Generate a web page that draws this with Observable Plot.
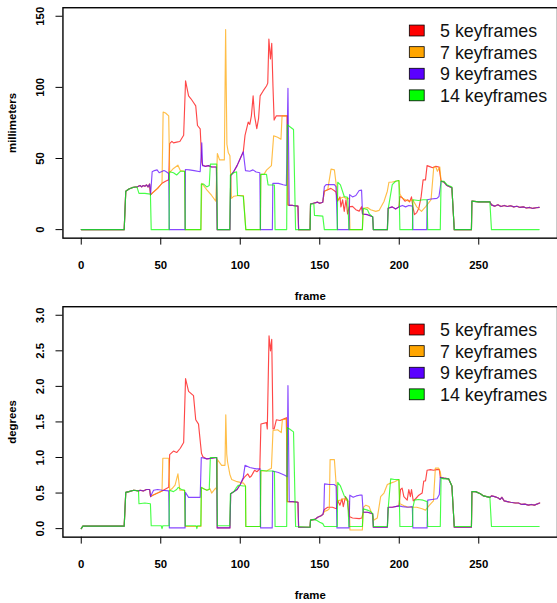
<!DOCTYPE html>
<html><head><meta charset="utf-8">
<script src="https://cdn.jsdelivr.net/npm/d3@7"></script>
<script src="https://cdn.jsdelivr.net/npm/@observablehq/plot@0.6"></script>
<style>
body{margin:0;background:#fff;overflow:hidden}
#wrap{width:557px;height:603px;overflow:hidden;position:relative;background:#fff}
#wrap svg{display:block}
</style></head><body><div id="wrap"></div>
<script>
const seriesNames = ["5 keyframes","7 keyframes","9 keyframes","14 keyframes"];
const seriesColors = ["#FF0000","#FFA500","#5A00FF","#00FF00"];
const xTicks = [0,50,100,150,200,250];
const mmTicks = [0,50,100,150];
const degTicks = [0,0.5,1,1.5,2,2.5,3];

// ---- top panel: millimeters, [frame, value] ----
const mm5 = [[0,0],[27,0],[28,27],[30,28.5],[32,29.5],[34,30],[35,30],[37,31],[38,30],[39,31],[40,30.5],[41,31.5],[42,30],[43,32],[43.6,24.4],[45,26],[48,29],[50.8,32.6],[53,34],[55,35],[55.6,60.5],[57,62],[58,61],[60,61.5],[62,62],[64.4,66.3],[65.6,104.6],[67.5,94],[69,92],[70.6,89.4],[72,87],[73.1,73.2],[74.8,70.9],[75.8,47.7],[76.3,45.4],[78,44.5],[80,45],[82,44],[85,44],[85.5,0],[93.5,0],[94,38],[96,41],[98,45],[100,50],[101.9,54.7],[103,66.3],[105,75.6],[106,74],[107,80],[108.1,94],[109,80],[110.4,71],[111.5,78],[112.5,94],[114.4,97.5],[116.5,101],[117.3,103],[118,134],[119,120],[119.8,131],[120.6,100],[121.3,77],[122.7,80],[128.5,80],[129.5,80],[130,17.4],[131,17],[133,17],[136.3,16.5],[136.7,0],[143.9,0],[144.2,18],[146,18.5],[148.7,19.3],[150,18.5],[151.9,19.3],[152.9,27],[155,28],[157,29],[159,27.5],[160.2,26.5],[161.2,20],[162.7,23],[163.3,16],[164.4,21],[165.4,12.8],[166.5,21],[167.5,11],[168.5,16],[170.6,16.3],[172.7,14],[174.8,13],[176.3,16],[176.9,11],[180,10.5],[183.3,9],[183.7,0],[192.5,0],[193,15],[195.6,16],[197.7,14.5],[199.8,16],[200.4,23.3],[201.8,22.5],[203.6,20],[205.4,21],[206.5,19.5],[207.7,23],[208.5,16.5],[209.6,10.5],[211,12],[212.3,15],[213.75,23],[215,35],[216.5,35],[217.5,45],[219.2,44.3],[221,43.5],[223,44.5],[225,44],[226.3,34],[228,33.5],[230,31],[233.1,29.5],[234.6,0],[245.4,0],[245.7,20],[250,19.5],[257,19.5],[258,17.4],[260,16.5],[262,17.5],[264,16.2],[266,17],[268,16.3],[270,16.8],[272,16],[274,16.4],[276,15.6],[278,16],[280,15.2],[282,15.6],[284,14.9],[286,15.4],[288,15.6]];
const mm7 = [[0,0],[27,0],[28,27],[30,28.5],[32,29.5],[34,30],[35,30],[37,31],[38,30],[39,31],[40,30.5],[41,31.5],[42,30],[43,32],[43.6,24.4],[45,26],[48,29],[50.8,32.6],[51.5,82.6],[53,82],[55,80],[55.6,40],[58,43],[60.8,45.3],[62.3,41.5],[65,41],[65.4,0],[75.3,0],[75.8,32.6],[79,28],[82,24],[84.6,20],[85.6,53.5],[87,49],[90,49],[90.8,140.7],[91.6,60],[92.5,54],[93.5,52],[94.5,22],[96,23.5],[99,24],[102,24],[103.5,0],[112.7,0],[113,38.8],[115,39],[116.5,41.8],[119.6,45],[121,66],[123.5,65],[125.6,63.5],[126.3,80],[128.5,80],[129.5,80],[130,17.4],[131,17],[133,17],[136.3,16.5],[136.7,0],[143.9,0],[144.2,18],[146,18.5],[148.7,19.3],[150,18.5],[151.9,19.3],[152.9,27.2],[155,28],[157.1,42.5],[159.2,42],[160.2,33],[161.2,21],[163,22],[165,23],[167,21.5],[168.5,22],[169,0],[176.8,0],[177.5,15],[180,15.5],[182,14],[185.2,12.8],[187.3,13.5],[190.4,19.8],[192.5,27],[193.5,33.3],[195.6,33.5],[197.7,34],[199.8,34.5],[200.4,25],[202,22],[204,21],[206,20],[208.5,21],[211,16],[214,12.8],[216.5,16],[220,21],[221.7,44],[223,44],[224,41],[225.5,44],[226.3,34],[228,33.5],[230,31],[233.1,29.5],[234.6,0],[245.4,0],[245.7,20],[250,19.5],[257,19.5],[258,17.4],[260,16.5],[262,17.5],[264,16.2],[266,17],[268,16.3],[270,16.8],[272,16],[274,16.4],[276,15.6],[278,16],[280,15.2],[282,15.6],[284,14.9],[286,15.4],[288,15.6]];
const mm9 = [[0,0],[27,0],[28,27],[30,28.5],[32,29.5],[34,30],[35,30],[37,31],[38,30],[39,31],[40,30.5],[41,31.5],[42,30],[43,32],[43.6,24.4],[44.6,40.7],[46,41.5],[47.7,42],[49,40],[50,40.5],[52,41.5],[53,41],[55,39.5],[55.4,0],[65.3,0],[65.5,42.3],[68,42],[71,41.5],[74.8,40.7],[75.8,61],[76.3,45],[78,44.5],[80,45],[82,44],[85,44],[85.5,0],[93.5,0],[94,38],[96,41],[98,45],[100,50],[101.9,54.7],[103.3,41.5],[106,41],[108,42],[110,40.5],[112.3,40],[112.7,0],[120.2,0],[120.5,32.6],[124,32.5],[127,31.5],[129,31],[130,99.3],[130.8,17],[133,17],[136.3,16.5],[136.7,0],[143.9,0],[144.2,18],[146,18.5],[148.7,19.3],[150,18.5],[151.9,19.3],[152.9,30.2],[154,31.6],[157,31.6],[159.2,31.6],[160.2,30.2],[161.2,0],[168.4,0],[168.8,24.6],[170.6,23],[172.7,24],[174.8,27.5],[176.3,27.8],[176.9,11],[180,10.5],[183.3,9],[183.7,0],[192.5,0],[193,15],[195.6,16],[197.7,14.5],[199.8,16],[202,17],[204,16],[206,17],[208.3,16.5],[208.6,0],[217.3,0],[217.6,21],[220,21.5],[223.7,22],[225,23.3],[226.3,34],[228,33.5],[230,31],[233.1,29.5],[234.6,0],[245.4,0],[245.7,20],[250,19.5],[257,19.5],[258,17.4],[260,16.5],[262,17.5],[264,16.2],[266,17],[268,16.3],[270,16.8],[272,16],[274,16.4],[276,15.6],[278,16],[280,15.2],[282,15.6],[284,14.9],[286,15.4],[288,15.6]];
const mm14 = [[0,0],[27,0],[28,27],[30,28.5],[32,29.5],[34,30],[35,30],[36.3,25.5],[40,25.5],[43.5,25],[44,0],[55.2,0],[55.5,40.7],[58,40],[60,38.4],[62.3,41],[65,41],[65.4,0],[75.2,0],[75.5,32],[77,32],[78.9,30],[80.5,31],[81.2,46],[85.2,46],[85.6,0],[93.4,0],[93.8,38.4],[96,40],[97.7,40.7],[98.3,24],[101.9,23.5],[103.5,0],[112.6,0],[112.9,38.8],[116.5,38.8],[117.5,31.4],[121.5,31.4],[121.9,0],[129.2,0],[129.6,73.7],[131,72.5],[133.5,70.4],[134.8,0],[143.9,0],[144.2,18],[146.3,18],[146.7,10],[151.9,9.5],[152.9,0],[161,0],[161.3,33.3],[163,31.5],[165.4,23.3],[167.5,22.7],[168.4,0],[176.8,0],[177.3,15],[180,14],[181.2,11],[183.3,9],[183.7,0],[192.6,0],[193.1,15],[195.6,31.6],[197.7,34],[199.8,34.5],[200.4,0],[208.3,0],[208.6,21],[212,20.5],[215,21],[217.5,21],[217.9,0],[225.8,0],[226.3,34.2],[228,34],[230,31.6],[233.1,30],[234.6,0],[245.4,0],[245.7,20],[250,19.5],[257,19.5],[258,0],[288,0]];

// ---- bottom panel: degrees, [frame, value] ----
const deg5 = [[0,0],[1,0.035],[27,0.035],[28,0.51],[30,0.52],[33,0.54],[36,0.53],[37,0.54],[39,0.53],[41,0.55],[43,0.55],[43.6,0.45],[45,0.47],[48,0.5],[50.8,0.53],[55,0.58],[55.6,1.04],[58,1.09],[60,1.07],[62.3,1.13],[64.4,1.21],[65.6,2.11],[67.5,1.93],[70.6,1.87],[72,1.53],[73.75,1.47],[75.6,1.06],[76.5,1.01],[79,0.98],[85.2,1.0],[85.5,0.01],[93.5,0.01],[94,0.49],[98,0.55],[100,0.62],[101.9,0.7],[102.5,0.72],[104.7,0.77],[106,0.72],[107,0.74],[108,0.78],[109,0.82],[110.5,0.8],[112.3,0.84],[113,1.47],[116.5,1.49],[117,1.4],[118.1,2.71],[119,2.5],[119.8,2.66],[120.6,1.4],[121.3,1.4],[122.7,1.53],[125,1.52],[128.3,1.55],[129,1.56],[129.6,0.38],[133,0.38],[136.3,0.37],[136.7,0.02],[143.9,0.02],[144.2,0.12],[147,0.13],[148.7,0.16],[150.8,0.18],[152,0.2],[152.9,0.27],[155,0.3],[158,0.3],[160.5,0.28],[161.2,0.4],[162.7,0.33],[164,0.42],[164.8,0.31],[166.2,0.45],[167.5,0.38],[168.5,0.17],[170.6,0.15],[174.8,0.14],[176.5,0.15],[177.3,0.23],[180,0.23],[183.3,0.21],[183.7,0.02],[192.5,0.02],[193,0.3],[195.6,0.3],[199.8,0.32],[200.8,0.55],[201.8,0.57],[202.9,0.45],[205,0.4],[206,0.55],[207,0.45],[207.7,0.55],[208.8,0.39],[210.3,0.42],[212.3,0.47],[214.4,0.5],[215.4,0.67],[216.5,0.67],[217.5,0.82],[219.6,0.83],[221.5,0.82],[223.7,0.83],[225.2,0.83],[225.8,0.72],[228,0.71],[231,0.7],[233.1,0.6],[234.6,0.02],[245.4,0.02],[245.7,0.52],[248,0.52],[251,0.49],[253,0.46],[257,0.44],[258,0.46],[260,0.45],[262.3,0.43],[263.5,0.41],[264.5,0.44],[266,0.39],[268,0.38],[270,0.37],[273,0.36],[275,0.36],[277,0.34],[279,0.345],[281.3,0.33],[283,0.34],[285,0.33],[288.3,0.36]];
const deg7 = [[0,0],[1,0.035],[27,0.035],[28,0.51],[30,0.52],[33,0.54],[36,0.53],[37,0.54],[39,0.53],[41,0.55],[43,0.55],[43.6,0.45],[45,0.47],[48,0.5],[50.8,0.53],[51.3,0.99],[55,0.99],[55.6,0.54],[57,0.56],[59,0.61],[60.8,0.77],[62,0.54],[65,0.54],[65.4,0.03],[75.3,0.03],[75.6,0.58],[77,0.56],[79,0.54],[81,0.56],[82,0.5],[84.5,0.57],[85.2,0.55],[85.6,0.97],[88.3,0.89],[90.4,0.89],[90.9,1.6],[91.5,1.05],[92,0.94],[93.5,0.76],[94.6,0.69],[98,0.66],[102,0.64],[103.3,0.6],[103.5,0.03],[112.7,0.03],[113,0.81],[116.5,0.81],[119.6,0.85],[120.6,1.38],[123.5,1.39],[125.8,1.35],[126.5,1.53],[129,1.54],[129.7,0.38],[133,0.38],[136.3,0.37],[136.7,0.02],[143.9,0.02],[144.2,0.12],[147,0.13],[148.7,0.16],[150.8,0.18],[152,0.2],[152.9,0.24],[155,0.26],[156,0.28],[156.5,0.97],[159.2,0.97],[160.2,0.66],[161.2,0.39],[163,0.4],[165,0.42],[167,0.4],[168.5,0.38],[169,-0.02],[176.8,-0.02],[177.5,0.3],[179,0.33],[181,0.31],[183,0.2],[184.1,0.12],[186.2,0.15],[188.3,0.45],[190.4,0.5],[192.5,0.62],[194.6,0.64],[197,0.66],[199.8,0.69],[200.4,0.35],[203,0.32],[206,0.3],[208.5,0.3],[211,0.3],[214.4,0.28],[216.5,0.26],[219,0.33],[221.5,0.39],[222.7,0.85],[224.8,0.85],[225.8,0.8],[226.3,0.72],[228,0.71],[231,0.7],[233.1,0.6],[234.6,0.02],[245.4,0.02],[245.7,0.52],[248,0.52],[251,0.49],[253,0.46],[257,0.44],[258,0.46],[260,0.45],[262.3,0.43],[263.5,0.41],[264.5,0.44],[266,0.39],[268,0.38],[270,0.37],[273,0.36],[275,0.36],[277,0.34],[279,0.345],[281.3,0.33],[283,0.34],[285,0.33],[288.3,0.36]];
const deg9 = [[0,0],[1,0.035],[27,0.035],[28,0.51],[30,0.52],[33,0.54],[36,0.53],[37,0.54],[39,0.53],[41,0.55],[43,0.55],[43.6,0.45],[44.6,0.5],[45.5,0.54],[48,0.55],[51,0.54],[55,0.53],[55.4,0.01],[65.3,0.01],[65.5,0.51],[67.5,0.44],[74.8,0.44],[75.5,1.0],[79,0.98],[85.2,1.0],[85.5,0.01],[93.5,0.01],[94,0.49],[98,0.55],[100,0.62],[101.9,0.72],[103,0.89],[106,0.86],[110,0.84],[112.5,0.84],[112.8,0.01],[120.1,0.01],[120.4,0.81],[124,0.79],[128,0.75],[129.5,0.73],[130,2.01],[130.8,0.38],[133,0.38],[136.3,0.37],[136.7,0.02],[143.9,0.02],[144.2,0.12],[147,0.13],[148.7,0.16],[150.8,0.18],[152,0.2],[152.6,0.27],[153,0.63],[156,0.62],[159,0.62],[160.3,0.6],[160.8,0.01],[168.4,0.01],[168.9,0.47],[171,0.44],[173,0.46],[175,0.47],[176.6,0.47],[177.3,0.23],[180,0.23],[183.3,0.21],[183.7,0.02],[192.5,0.02],[193,0.3],[195.6,0.3],[199.8,0.32],[202,0.31],[205,0.3],[208.2,0.31],[208.6,0.01],[217.5,0.01],[217.9,0.4],[220.6,0.41],[223.75,0.42],[225.2,0.48],[225.8,0.72],[228,0.71],[231,0.7],[233.1,0.6],[234.6,0.02],[245.4,0.02],[245.7,0.52],[248,0.52],[251,0.49],[253,0.46],[257,0.44],[258,0.46],[260,0.45],[262.3,0.43],[263.5,0.41],[264.5,0.44],[266,0.39],[268,0.38],[270,0.37],[273,0.36],[275,0.36],[277,0.34],[279,0.345],[281.3,0.33],[283,0.34],[285,0.33],[288.3,0.36]];
const deg14 = [[0,0],[1,0.035],[27,0.035],[28,0.51],[30,0.52],[33,0.54],[36,0.53],[36.3,0.35],[40,0.36],[43.5,0.35],[44,0.04],[50.3,0.04],[50.8,0.0],[51.3,0.04],[55.2,0.04],[55.5,0.54],[58,0.52],[60,0.55],[61,0.58],[63,0.55],[65,0.54],[65.4,0.04],[72.3,0.04],[72.7,0.0],[73.1,0.04],[75.2,0.04],[75.5,0.58],[77,0.56],[79,0.54],[80.5,0.55],[81.2,1.0],[85.2,1.0],[85.6,0.04],[93.4,0.04],[93.8,0.49],[96,0.52],[97.7,0.58],[98.8,0.61],[101.9,0.6],[103.3,0.6],[103.5,0.03],[112.6,0.03],[112.9,0.82],[116.5,0.81],[120,0.81],[121.5,0.8],[121.9,0.03],[129.2,0.03],[129.6,1.42],[131,1.4],[133.5,1.36],[134.8,0.03],[143.9,0.02],[144.2,0.12],[146,0.13],[147.7,0.12],[150,0.09],[151.9,0.07],[152.9,0.03],[161,0.03],[161.3,0.65],[163,0.6],[165.4,0.46],[167.5,0.41],[168.4,0.03],[176.8,0.03],[177.3,0.28],[180,0.26],[182,0.24],[183.3,0.21],[183.7,0.03],[192.6,0.03],[193.1,0.3],[194.6,0.7],[197,0.69],[199.8,0.69],[200.4,0.03],[208.3,0.03],[208.6,0.3],[209.6,0.4],[212,0.41],[215,0.4],[217.5,0.38],[217.9,0.03],[225.8,0.03],[226.3,0.71],[228,0.7],[231.1,0.7],[233.1,0.6],[234.6,0.03],[245.4,0.03],[245.7,0.52],[248,0.52],[251,0.49],[253,0.46],[257,0.44],[258,0.03],[288,0.03]];

function toRows(arrays){
  const rows = [];
  arrays.forEach((arr, i) => arr.forEach(([f, v]) => rows.push({frame: f, value: v, series: seriesNames[i]})));
  return rows;
}

const font = "'Liberation Sans', Arial, Helvetica, sans-serif";

function panel(rows, yDomain, yTicks, yFormat, yLabel, mTop, height){
  const chart = Plot.plot({
    width: 562, height: height,
    marginLeft: 63, marginRight: 0, marginTop: mTop, marginBottom: height - mTop - 232.5,
    style: {fontFamily: font, fontSize: "11.5px", fontWeight: "bold", color: "#000", background: "#fff", overflow: "visible"},
    x: {domain: [-11.52, 299.52]},
    y: {domain: yDomain},
    color: {domain: seriesNames, range: seriesColors},
    marks: [
      Plot.line(rows, {x: "frame", y: "value", z: "series", stroke: "series", strokeWidth: 1.15, strokeOpacity: 0.72}),
      Plot.frame({stroke: "#000", strokeWidth: 1.4}),
      Plot.axisX({ticks: xTicks, tickSize: 7, tickPadding: 16, tickFormat: d => String(d), label: "frame", labelAnchor: "center", labelArrow: "none", labelOffset: 62, fontSize: 11.5}),
      Plot.axisY({ticks: yTicks, tickSize: 7, tickPadding: 12, tickRotate: -90, tickFormat: yFormat, label: yLabel, labelAnchor: "center", labelArrow: "none", labelOffset: 56, fontSize: 11.5})
    ]
  });
  // legend drawn inside the plot box, top right
  const svg = d3.select(chart);
  const g = svg.append("g").attr("font-family", font).attr("font-weight", "normal").attr("text-anchor", "start");
  seriesNames.forEach((name, i) => {
    const y0 = mTop + 18 + i * 21.8;
    g.append("rect").attr("x", 413).attr("y", y0).attr("width", 15).attr("height", 11)
      .attr("fill", seriesColors[i]).attr("stroke", "#000").attr("stroke-width", 0.8);
    g.append("text").attr("x", 444).attr("y", y0 + 5.5).attr("dy", "0.36em")
      .attr("text-anchor", "start").attr("font-size", 18).attr("fill", "#111").text(name);
  });
  return chart;
}

const wrap = document.getElementById("wrap");
wrap.appendChild(panel(toRows([mm5, mm7, mm9, mm14]), [-6, 156], mmTicks, d => String(d), "millimeters", 7.3, 301));
wrap.appendChild(panel(toRows([deg5, deg7, deg9, deg14]), [-0.12, 3.12], degTicks, d => d.toFixed(1), "degrees", 8.3, 302));
</script></body></html>
